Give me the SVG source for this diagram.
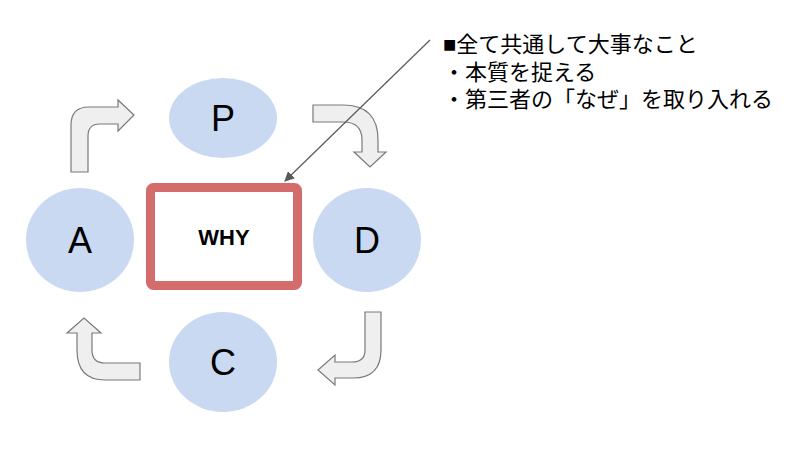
<svg xmlns="http://www.w3.org/2000/svg" width="800" height="449" viewBox="0 0 800 449">
<style>
.n{fill:#c9d9f2}
.l{font-family:"Liberation Sans",Arial,sans-serif;font-size:36px;fill:#000;text-anchor:middle}
.ar{fill:#efefef;stroke:#7a7a7a;stroke-width:1.2}
.t{font-family:"Liberation Sans","Noto Sans CJK JP",sans-serif;font-size:22px;fill:#000}
</style>
<defs><marker id="m" markerWidth="10" markerHeight="10" refX="9" refY="5" orient="auto" markerUnits="userSpaceOnUse"><path d="M0,0 L10,5 L0,10 Z" fill="#595959"/></marker></defs>
<rect width="800" height="449" fill="#fff"/>
<g id="P"><ellipse class="n" cx="223" cy="118" rx="54" ry="40"/><text class="l" x="223" y="131">P</text></g>
<g id="A"><ellipse class="n" cx="80" cy="240" rx="54" ry="52"/><text class="l" x="80" y="253">A</text></g>
<g id="D"><ellipse class="n" cx="367" cy="240" rx="54" ry="52"/><text class="l" x="367" y="253">D</text></g>
<g id="C"><ellipse class="n" cx="223" cy="362" rx="54" ry="50"/><text class="l" x="223" y="375">C</text></g>
<g id="WHY"><rect x="150.5" y="187.5" width="147" height="98" rx="3" fill="#fff" stroke="#d46c6c" stroke-width="9"/><text x="224" y="245" font-family="Liberation Sans,Arial,sans-serif" font-weight="bold" font-size="22" text-anchor="middle">WHY</text></g>
<g id="connectors">
<path class="ar" d="M71,172 L71,125 Q71,107 89,107 L118,107 L118,100 L134,115 L118,131 L118,124 L100,124 Q88,124 88,136 L88,172 Z"/>
<path class="ar" d="M313,105 L343,105 Q378,105 378,140 L378,152 L386,152 L370,167 L354,152 L362,152 L362,140 Q362,122 343,122 L313,122 Z"/>
<path class="ar" d="M381,312 L381,350 Q381,378 353,378 L335,378 L335,385 L318,370 L335,355 L335,362 L352,362 Q365,362 365,350 L365,312 Z"/>
<path class="ar" d="M140,363 L105,363 Q92,363 92,350 L92,333 L101,333 L84,318 L67,333 L77,333 L77,350 Q77,380 105,380 L140,380 Z"/>
<line x1="430" y1="40" x2="285" y2="181" stroke="#595959" stroke-width="1.2" marker-end="url(#m)"/>
</g>
<g id="note">
<text class="t" x="443" y="52">■全て共通して大事なこと</text>
<text class="t" x="443" y="80">・本質を捉える</text>
<text class="t" x="443" y="107">・第三者の「なぜ」を取り入れる</text>
</g>
</svg>
